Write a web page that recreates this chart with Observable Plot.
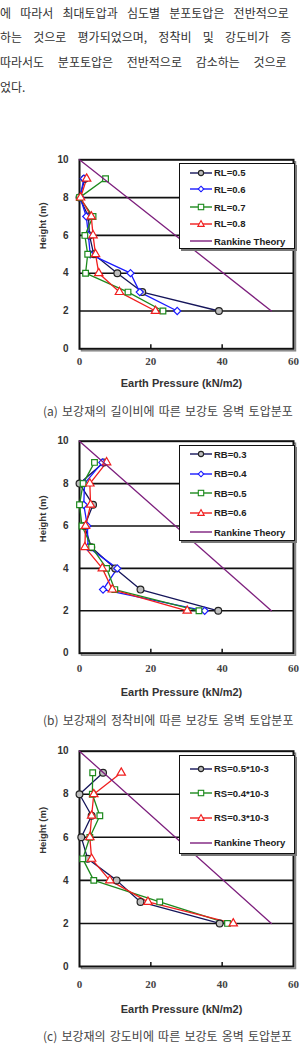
<!DOCTYPE html>
<html><head><meta charset="utf-8">
<script src="https://cdn.jsdelivr.net/npm/d3@7"></script>
<script src="https://cdn.jsdelivr.net/npm/@observablehq/plot@0.6"></script>
<style>
html,body{margin:0;padding:0;background:#fff;width:302px;height:1053px;overflow:hidden;}
#root{position:relative;width:302px;height:1053px;overflow:hidden;}
.para{position:absolute;white-space:nowrap;font-family:"Noto Sans CJK KR",sans-serif;font-size:12px;color:#333;line-height:16px;}
.cap{position:absolute;left:43px;white-space:nowrap;font-family:"Noto Sans CJK KR",sans-serif;font-size:12px;color:#444;line-height:14px;word-spacing:1.5px;}
.chart{position:absolute;left:0;}
.legend{position:absolute;left:179px;width:114px;background:#fff;border:1.5px solid #111;box-shadow:2px 2px 0 #777;font:bold 9.5px "Liberation Sans",Arial,sans-serif;color:#222;}
.legend .row{position:absolute;left:9px;height:12px;display:flex;align-items:center;white-space:nowrap;}
.legend svg{margin-right:1px;}
</style>
</head><body><div id="root"></div>
<script>
// ---------- data ----------
const paragraph = [
  "에 따라서 최대토압과 심도별 분포토압은 전반적으로",
  "하는 것으로 평가되었으며, 정착비 및 강도비가 증",
  "따라서도 분포토압은 전반적으로 감소하는 것으로",
  "었다."
];
const captions = [
  "(a) 보강재의 길이비에 따른 보강토 옹벽 토압분포",
  "(b) 보강재의 정착비에 따른 보강토 옹벽 토압분포",
  "(c) 보강재의 강도비에 따른 보강토 옹벽 토압분포"
];
const xLabel = "Earth Pressure (kN/m2)";
const yLabel = "Height (m)";
const xTicks = [0, 20, 40, 60];
const yTicks = [0, 2, 4, 6, 8, 10];
const gridLevels = [2, 4, 6, 8];

const heights = [9, 8, 7, 6, 5, 4, 3, 2];
// (a) length ratio
const rlNames = ["RL=0.5", "RL=0.6", "RL=0.7", "RL=0.8"];
const rl05 = [1.5, 0.0, 2.5, 2.8, 4.0, 10.6, 17.6, 39.1];
const rl06 = [1.2, 0.2, 1.9, 2.5, 3.0, 14.3, 16.9, 27.4];
const rl07 = [7.3, 0.0, 3.8, 1.5, 2.3, 1.7, 13.6, 23.4];
const rl08 = [2.0, 0.3, 3.3, 3.8, 4.5, 5.4, 11.2, 21.3];
// (b) embedment ratio
const rbNames = ["RB=0.3", "RB=0.4", "RB=0.5", "RB=0.6"];
const rb03 = [6.8, 0.0, 3.8, 1.4, 3.3, 10.0, 17.1, 38.9];
const rb04 = [6.4, 1.4, 1.2, 2.2, 2.4, 10.6, 6.6, 35.1];
const rb05 = [4.2, 1.0, 0.0, 0.7, 3.4, 7.6, 9.9, 33.5];
const rb06 = [7.6, 2.9, 3.1, 1.7, 1.5, 6.4, 9.2, 30.2];
// (c) stiffness ratio
const rsNames = ["RS=0.5*10-3", "RS=0.4*10-3", "RS=0.3*10-3"];
const rs05 = [6.6, 0.0, 3.4, 0.5, 2.3, 10.4, 17.1, 39.3];
const rs04 = [3.7, 3.6, 5.7, 2.9, 0.9, 4.0, 22.5, 41.5];
const rs03 = [11.7, 4.0, 3.4, 2.9, 3.4, 8.5, 19.2, 43.1];
// Rankine theory
const rankineName = "Rankine Theory";
const rankineHeights = [10, 2];
const rankinePressure = [0, 53.8];

// ---------- styles ----------
const S = {
  black: {stroke: "#15155a", mStroke: "#222", fill: "#bdbdbd", symbol: "circle", r: 3.4, shape: "circle"},
  blue:  {stroke: "#1a1aff", mStroke: "#1a1aff", fill: "#fff", symbol: "diamond2", r: 3.2, shape: "diamond"},
  green: {stroke: "#1d8a1d", mStroke: "#1d8a1d", fill: "#fff", symbol: "square2", r: 3.6, shape: "square"},
  red:   {stroke: "#f01e1e", mStroke: "#f01e1e", fill: "#fff", symbol: "triangle2", r: 4.0, shape: "triangle"},
  purple:{stroke: "#7d1f7d"}
};

const rows = (vals) => heights.map((h, i) => ({h, p: vals[i]}));
const rankineRows = rankineHeights.map((h, i) => ({h, p: rankinePressure[i]}));

const root = document.getElementById("root");

paragraph.forEach((t, i) => {
  const d = document.createElement("div");
  d.className = "para";
  d.textContent = t;
  const cfg = [{l: 0, ws: 6.5}, {l: 0, ws: 8.5}, {l: 0, ws: 11}, {l: 0, ws: 0}][i];
  d.style.left = cfg.l + "px";
  d.style.top = [5, 29, 54, 79][i] + "px";
  d.style.wordSpacing = cfg.ws + "px";
  root.appendChild(d);
});

function chart(series, o) {
  const marks = [
    Plot.frame({stroke: "#888", strokeWidth: 1.5, dx: 2, dy: 2}),
    Plot.frame({stroke: "#111", strokeWidth: 2, fill: "white"}),
    Plot.gridY(gridLevels, {stroke: "#111", strokeOpacity: 1, strokeWidth: 1.6}),
    Plot.axisX({ticks: [20, 40], tickSize: -4, tickFormat: () => "", label: null, stroke: "#111", strokeWidth: 1.5}),
    Plot.axisX({ticks: xTicks, tickSize: 0, tickPadding: o.xPad, fontFamily: "Liberation Serif, serif", fontWeight: "bold", fontSize: 11, fill: "#444", label: null}),
    Plot.axisY({ticks: yTicks, tickSize: 0, tickPadding: 11, fontFamily: "Liberation Sans, Arial, sans-serif", fontWeight: "bold", fontSize: 10, fill: "#333", label: null}),
    Plot.text([xLabel], {text: d => d, frameAnchor: "bottom", dy: o.xLab, dx: -5, fontFamily: "Liberation Sans, Arial, sans-serif", fontWeight: "bold", fontSize: 11, fill: "#333"}),
    Plot.text([yLabel], {text: d => d, frameAnchor: "left", rotate: -90, dx: -37, dy: -5, fontFamily: "Liberation Sans, Arial, sans-serif", fontWeight: "bold", fontSize: 9.5, fill: "#333"})
  ];
  series.forEach(s => {
    marks.push(Plot.line(rows(s.values), {x: "p", y: "h", stroke: s.st.stroke, strokeWidth: 1.3}));
  });
  series.forEach(s => {
    marks.push(Plot.dot(rows(s.values), {x: "p", y: "h", symbol: s.st.symbol, r: s.st.r, fill: s.st.fill, stroke: s.st.mStroke, strokeWidth: 1.2}));
  });
  marks.push(Plot.line(rankineRows, {x: "p", y: "h", stroke: S.purple.stroke, strokeWidth: 1.3}));
  const svg = Plot.plot({
    width: 302, height: o.mt + o.ph + 52,
    marginLeft: 79, marginRight: 9, marginTop: o.mt, marginBottom: 52,
    x: {domain: [0, 60]}, y: {domain: [0, 10]},
    style: {background: "transparent", overflow: "visible"},
    marks
  });
  const wrap = document.createElement("div");
  wrap.className = "chart";
  wrap.style.top = o.top + "px";
  wrap.appendChild(svg);
  root.appendChild(wrap);

  // legend
  const lg = document.createElement("div");
  lg.className = "legend";
  lg.style.top = o.lgTop + "px";
  lg.style.height = o.lgH + "px";
  const items = series.map(s => ({name: s.name, st: s.st})).concat([{name: rankineName, st: S.purple}]);
  items.forEach((it, i) => {
    const r = document.createElement("div");
    r.className = "row";
    r.style.top = (o.rowY[i] - 6) + "px";
    let m = "";
    const st = it.st;
    if (st.shape === "circle") m = `<circle cx="12" cy="6" r="2.6" fill="${st.fill}" stroke="${st.mStroke}" stroke-width="1.1"/>`;
    if (st.shape === "diamond") m = `<path d="M12,3.2L14.8,6L12,8.8L9.2,6Z" fill="${st.fill}" stroke="${st.mStroke}" stroke-width="1.1"/>`;
    if (st.shape === "square") m = `<rect x="9.3" y="3.3" width="5.4" height="5.4" fill="${st.fill}" stroke="${st.mStroke}" stroke-width="1.1"/>`;
    if (st.shape === "triangle") m = `<path d="M12,2.6L15.2,8.4L8.8,8.4Z" fill="${st.fill}" stroke="${st.mStroke}" stroke-width="1.1"/>`;
    r.innerHTML = `<svg width="24" height="12"><line x1="1" x2="23" y1="6" y2="6" stroke="${st.stroke}" stroke-width="1.4"/>${m}</svg><span>${it.name}</span>`;
    lg.appendChild(r);
  });
  root.appendChild(lg);
}

chart([
  {name: rlNames[0], values: rl05, st: S.black},
  {name: rlNames[1], values: rl06, st: S.blue},
  {name: rlNames[2], values: rl07, st: S.green},
  {name: rlNames[3], values: rl08, st: S.red}
], {top: 150, mt: 9.3, ph: 189, xPad: 8, xLab: 38, lgTop: 163, lgH: 84, rowY: [8.7, 25.3, 43, 59.7, 77]});

chart([
  {name: rbNames[0], values: rb03, st: S.black},
  {name: rbNames[1], values: rb04, st: S.blue},
  {name: rbNames[2], values: rb05, st: S.green},
  {name: rbNames[3], values: rb06, st: S.red}
], {top: 430, mt: 10.7, ph: 212, xPad: 11, xLab: 43, lgTop: 445, lgH: 94, rowY: [8.3, 27.7, 47.3, 66.7, 86]});

chart([
  {name: rsNames[0], values: rs05, st: S.black},
  {name: rsNames[1], values: rs04, st: S.green},
  {name: rsNames[2], values: rs03, st: S.red}
], {top: 740, mt: 10.7, ph: 215.3, xPad: 14, xLab: 46, lgTop: 755, lgH: 97, rowY: [12.7, 37.3, 61.7, 86.7]});

captions.forEach((t, i) => {
  const d = document.createElement("div");
  d.className = "cap";
  d.textContent = t;
  d.style.top = [404, 713, 1029][i] + "px";
  root.appendChild(d);
});
</script>
</body></html>
